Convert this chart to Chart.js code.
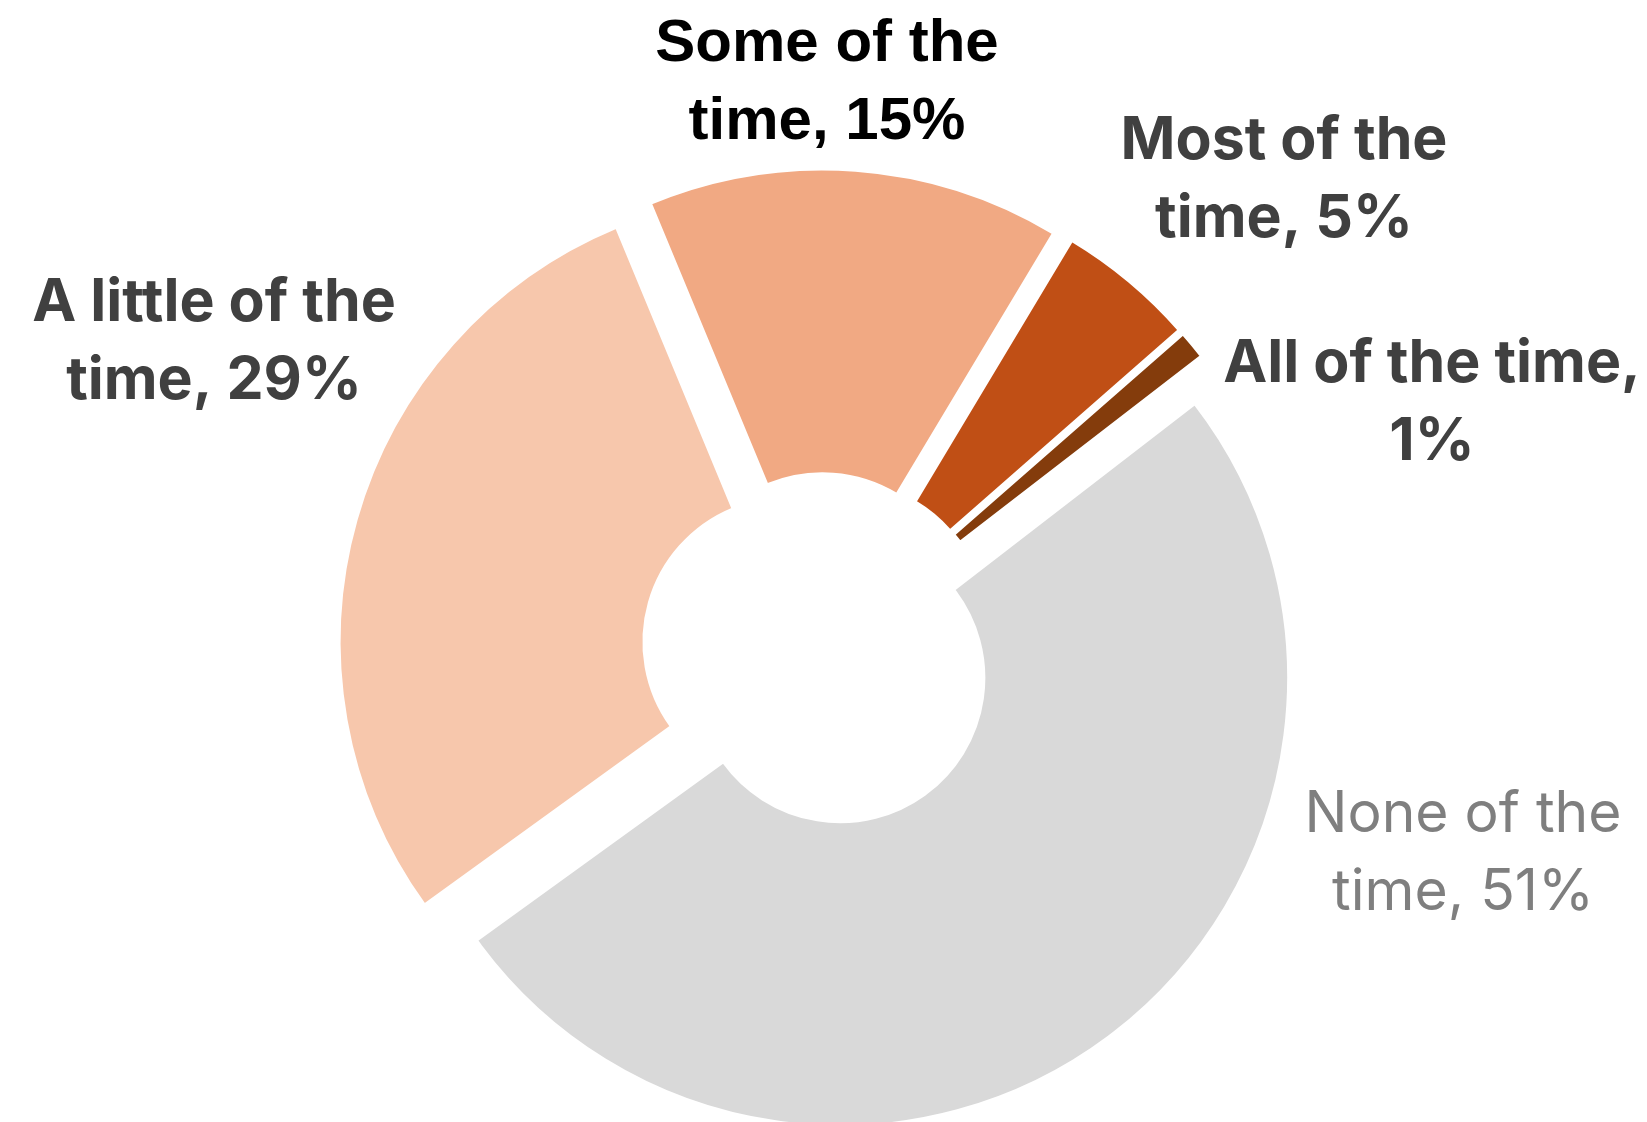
<!DOCTYPE html>
<html>
<head>
<meta charset="utf-8">
<script src="https://cdn.jsdelivr.net/npm/chart.js@4/dist/chart.umd.min.js"></script>
<style>
html,body{margin:0;padding:0;background:#fff;}
#wrap{width:1647px;height:1122px;position:relative;}
</style>
</head>
<body>
<div id="wrap"><canvas id="chart"></canvas></div>
<script>
// DATA
const categories=["Some of the time","Most of the time","All of the time","None of the time","A little of the time"];
const percents=[15,5,1,51,29];
const sliceColors=["#F1A983","#C04F15","#843C0C","#D9D9D9","#F7C7AC"];

// label look, one per slice (offset from chart centre)
const labelStyle=[
    {dx:7,dy:-568,color:"#000000",font:"bold 60px 'Liberation Sans', Arial, sans-serif"},
    {dx:464,dy:-471,color:"#404040",font:"bold 59px Inter, sans-serif"},
    {dx:612,dy:-248,color:"#404040",font:"bold 59px Inter, sans-serif"},
    {dx:643,dy:203,color:"#7F7F7F",font:"normal 57px Inter, sans-serif"},
    {dx:-606,dy:-309,color:"#404040",font:"bold 59px Inter, sans-serif"}
];

// move every slice out along its middle angle
const explode={
    id:"explode",
    afterDatasetsUpdate(chart,args,opts){
        chart.getDatasetMeta(0).data.forEach(arc=>{
            const mid=(arc.startAngle+arc.endAngle)/2;
            arc.x+=Math.cos(mid)*opts.distance;
            arc.y+=Math.sin(mid)*opts.distance;
        });
    }
};

// DATA LABELS
const sliceLabels={
    id:"sliceLabels",
    afterDraw(chart){
        const ctx=chart.ctx;
        const ca=chart.chartArea;
        const cx=(ca.left+ca.right)/2, cy=(ca.top+ca.bottom)/2;
        const lh=78;
        ctx.save();
        ctx.textAlign="center";
        ctx.textBaseline="middle";
        categories.forEach((c,i)=>{
            const st=labelStyle[i];
            let lines;
            if(i==2) lines=["All of the time,",percents[i]+"%"];
            else{
                const head=c.replace(/ time$/,"");
                lines=[head,"time, "+percents[i]+"%"];
            }
            ctx.font=st.font;
            ctx.fillStyle=st.color;
            lines.forEach((l,j)=>{
                ctx.fillText(l,cx+st.dx,cy+st.dy+(j-(lines.length-1)/2)*lh);
            });
        });
        ctx.restore();
    }
};

new Chart(document.getElementById("chart"),{
    type:"doughnut",
    data:{
        labels:categories,
        datasets:[{
            data:percents,
            backgroundColor:sliceColors,
            borderColor:"#ffffff",
            borderWidth:2
        }]
    },
    options:{
        responsive:true,
        maintainAspectRatio:false,
        animation:false,
        rotation:-22.5,
        radius:448,
        cutout:"32.2%",
        layout:{padding:{top:180,bottom:0,left:0,right:7}},
        plugins:{
            legend:{display:false},
            tooltip:{enabled:false},
            explode:{distance:33.6}
        }
    },
    plugins:[explode,sliceLabels]
});
</script>
</body>
</html>
